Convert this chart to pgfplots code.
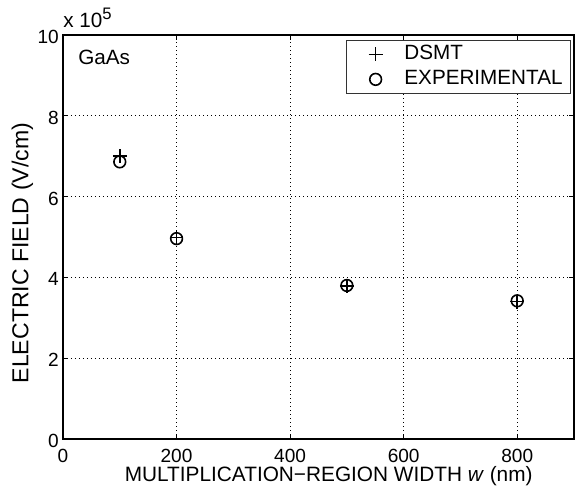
\documentclass[border=0pt]{standalone}
\usepackage{fontspec}
\setmainfont{Liberation Sans}
\usepackage{pgfplots}
\pgfplotsset{compat=1.18}

\begin{document}
\begin{tikzpicture}[font=\fontsize{14.3}{16}\selectfont]
% fixed page: 575x491 px at 0.75pt per px
\useasboundingbox (-47.25pt,-39pt) rectangle (384pt,329.25pt);
\begin{axis}[
    at={(0,0)}, anchor=south west,
    scale only axis,
    width=383.25pt, height=303pt,
    xmin=0, xmax=900, ymin=0, ymax=10,
    xtick={0,200,400,600,800},
    ytick={0,2,4,6,8,10},
    /pgf/number format/assume math mode=true,
    tick align=inside,
    major tick length=4pt,
    tick style={line width=0.8pt, black},
    axis line style={line width=1.3pt, black},
    grid=major,
    grid style={black, line width=0.8pt, dash pattern=on 0.9pt off 2.1pt},
    xticklabel style={anchor=base, yshift=-18pt},
    yticklabel style={anchor=east, inner xsep=0pt, xshift=-3pt, yshift=-1.5pt},
    xlabel={MULTIPLICATION\textminus REGION WIDTH \textit{w} (nm)},
    ylabel={ELECTRIC FIELD (V/cm)},
    xlabel style={at={(rel axis cs:0.52,0)}, anchor=base, yshift=-32pt,
        font=\fontsize{15.6}{17}\selectfont},
    ylabel style={at={(rel axis cs:0,0.46)}, anchor=base, yshift=26pt,
        font=\fontsize{17.3}{19}\selectfont},
    legend style={at={(rel axis cs:0.994,0.988)}, anchor=north east,
        draw=black!80, line width=0.6pt, inner xsep=4pt, inner ysep=3.6pt,
        row sep=4.75pt, font=\fontsize{15.5}{17}\selectfont,
        nodes={text height=11pt, text depth=3pt, inner ysep=0pt},
        /tikz/every odd column/.append style={column sep=8pt}},
    legend image code/.code={%
        \path (0pt,0pt) (28pt,0pt);
        \draw[#1] plot coordinates {(17pt,0pt)};},
    legend cell align=left,
    clip=false,
]
\addplot[only marks, mark=+, mark size=5.2pt, line width=1.2pt, black]
    coordinates {(100,7.0) (200,4.99) (500,3.78) (800,3.40)};
\addlegendentry{DSMT}
\addplot[only marks, mark=o, mark size=4.4pt, line width=1.2pt, black]
    coordinates {(100,6.86) (200,4.96) (500,3.80) (800,3.42)};
\addlegendentry{EXPERIMENTAL}

\node[anchor=north west, inner sep=0pt, font=\fontsize{15.5}{17}\selectfont]
    at (rel axis cs:0,1) [xshift=11.25pt, yshift=-11pt] {GaAs};
\node[anchor=base west, inner sep=0pt, font=\fontsize{15.5}{17}\selectfont]
    at (rel axis cs:0,1) [yshift=5.25pt]
    {x 10\raisebox{6.5pt}{\fontsize{12.5}{14}\selectfont 5}};
\end{axis}
\end{tikzpicture}
\end{document}
